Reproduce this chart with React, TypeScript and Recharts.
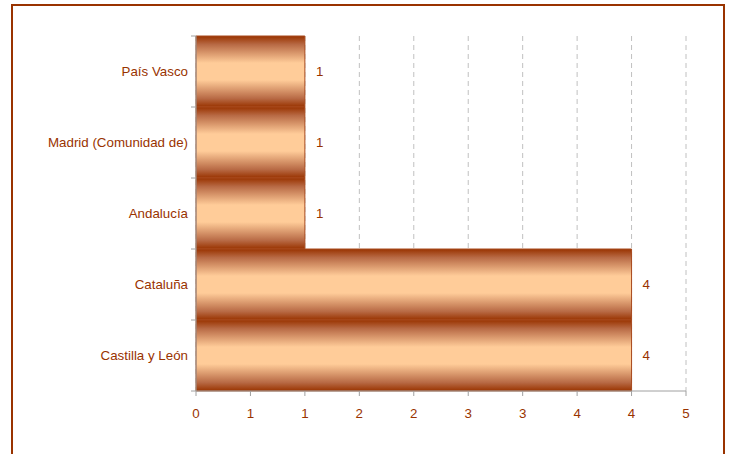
import React from 'react';
import { BarChart, Bar, XAxis, YAxis, CartesianGrid, LabelList } from 'recharts';

const categories = ['País Vasco', 'Madrid (Comunidad de)', 'Andalucía', 'Cataluña', 'Castilla y León'];
const values = [1, 1, 1, 4, 4];
const xTicks = [0, 0.5, 1, 1.5, 2, 2.5, 3, 3.5, 4, 4.5];

const data = categories.map((name, i) => ({ name, value: values[i] }));

const W = 734;
const H = 454;
const X_H = 30;
const M = { top: 36, right: 48, bottom: 63 - X_H, left: 0 };
const Y_W = 196;
const BROWN = '#993300';
const FONT = '"Liberation Sans", Arial, sans-serif';
const plotH = H - M.top - M.bottom - X_H;
const halfBand = plotH / categories.length / 2;

const YTick = (props: any) => {
  const { x, y, payload, index } = props;
  const axisX = M.left + Y_W;
  const isLast = index === categories.length - 1;
  return (
    <g>
      <line x1={axisX - 5} x2={axisX} y1={y - halfBand} y2={y - halfBand} stroke="#a0a0a0" />
      {isLast && (
        <line x1={axisX - 5} x2={axisX} y1={y + halfBand} y2={y + halfBand} stroke="#a0a0a0" />
      )}
      <text x={x} y={y} textAnchor="end" dominantBaseline="central" fill={BROWN} fontSize={13.33} fontFamily={FONT}>
        {payload.value}
      </text>
    </g>
  );
};

export default function App() {
  return (
    <div style={{ position: 'absolute', left: 0, top: 0, width: W, height: H, background: '#fff', overflow: 'hidden' }}>
      <div
        style={{
          position: 'absolute',
          left: 11,
          top: 4,
          width: 714,
          height: 480,
          border: `2px solid ${BROWN}`,
          boxSizing: 'border-box',
        }}
      />
      <div style={{ position: 'absolute', left: 0, top: 0 }}>
        <BarChart width={W} height={H} data={data} layout="vertical" margin={M} barCategoryGap={0}>
          <defs>
            <linearGradient id="barGrad" x1="0" y1="0" x2="0" y2="1">
              <stop offset="0" stopColor="#993300" />
              <stop offset="0.12" stopColor="#b86a45" />
              <stop offset="0.38" stopColor="#ffcc99" />
              <stop offset="0.62" stopColor="#ffcc99" />
              <stop offset="0.88" stopColor="#b86a45" />
              <stop offset="1" stopColor="#993300" />
            </linearGradient>
          </defs>
          <CartesianGrid horizontal={false} vertical stroke="#c0c0c0" strokeDasharray="5 4" />
          <XAxis
            type="number"
            dataKey="value"
            domain={[0, 4.5]}
            ticks={xTicks}
            interval={0}
            height={X_H}
            tickFormatter={(v: number) => String(Math.round(v))}
            stroke="#a0a0a0"
            tickSize={5}
            tickMargin={13}
            tick={{ fill: BROWN, fontSize: 13.33, fontFamily: FONT }}
          />
          <YAxis
            type="category"
            dataKey="name"
            width={Y_W}
            stroke="#a0a0a0"
            tickLine={false}
            tickSize={5}
            tickMargin={3}
            interval={0}
            tick={<YTick />}
          />
          <Bar dataKey="value" fill="url(#barGrad)" stroke="#a84a1e" strokeWidth={1} isAnimationActive={false}>
            <LabelList dataKey="value" position="right" offset={11} fill={BROWN} stroke="none" fontSize={13.33} fontFamily={FONT} />
          </Bar>
        </BarChart>
      </div>
    </div>
  );
}
